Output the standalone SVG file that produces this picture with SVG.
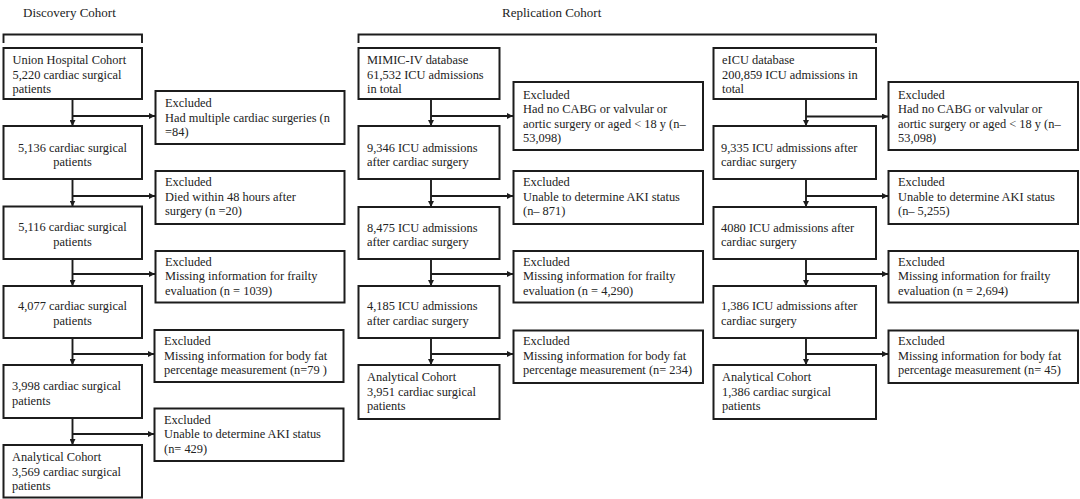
<svg xmlns="http://www.w3.org/2000/svg" width="1080" height="499" viewBox="0 0 1080 499">
<style>
  .bg { fill: #ffffff; }
  .box { fill: #ffffff; stroke: #1c1c1c; stroke-width: 2; }
  .ln { fill: none; stroke: #1c1c1c; stroke-width: 1.9; }
  .t { font-family: "Liberation Serif", "Times New Roman", serif; font-size: 12.4px; fill: #222222; }
  .c { text-anchor: middle; }
  .title { font-family: "Liberation Serif", "Times New Roman", serif; font-size: 13px; fill: #222222; }
</style>
<defs>
  <marker id="ah" viewBox="0 0 10 10" refX="10" refY="5" markerWidth="6" markerHeight="6" markerUnits="userSpaceOnUse" orient="auto">
    <path d="M0,0 L10,5 L0,10 z" fill="#1c1c1c"/>
  </marker>
</defs>
<rect class="bg" x="0" y="0" width="1080" height="499"/>

<g id="titles">
  <text class="title" x="23" y="17">Discovery Cohort</text>
  <text class="title" x="502" y="17">Replication Cohort</text>
  <path class="ln" d="M3.5,43 V34.5 H142 V43"/>
  <path class="ln" d="M358.5,43 V34.5 H876 V43"/>
</g>

<g id="connectors">
  <!-- Discovery -->
  <path class="ln" d="M72.5,99 V126" marker-end="url(#ah)"/>
  <path class="ln" d="M72.5,116 H155" marker-end="url(#ah)"/>
  <path class="ln" d="M72.5,179 V206.5" marker-end="url(#ah)"/>
  <path class="ln" d="M72.5,196 H155" marker-end="url(#ah)"/>
  <path class="ln" d="M72.5,259 V286" marker-end="url(#ah)"/>
  <path class="ln" d="M72.5,274 H155" marker-end="url(#ah)"/>
  <path class="ln" d="M72.5,338 V365" marker-end="url(#ah)"/>
  <path class="ln" d="M72.5,354 H154" marker-end="url(#ah)"/>
  <path class="ln" d="M72.5,418 V445" marker-end="url(#ah)"/>
  <path class="ln" d="M72.5,434 H154" marker-end="url(#ah)"/>
  <!-- MIMIC -->
  <path class="ln" d="M431,99 V126" marker-end="url(#ah)"/>
  <path class="ln" d="M431,116 H513" marker-end="url(#ah)"/>
  <path class="ln" d="M431,179 V207" marker-end="url(#ah)"/>
  <path class="ln" d="M431,196 H513" marker-end="url(#ah)"/>
  <path class="ln" d="M431,259 V286" marker-end="url(#ah)"/>
  <path class="ln" d="M431,274 H513" marker-end="url(#ah)"/>
  <path class="ln" d="M431,338 V365" marker-end="url(#ah)"/>
  <path class="ln" d="M431,354 H513" marker-end="url(#ah)"/>
  <!-- eICU -->
  <path class="ln" d="M806,99 V126" marker-end="url(#ah)"/>
  <path class="ln" d="M806,116.5 H888" marker-end="url(#ah)"/>
  <path class="ln" d="M806,179 V207" marker-end="url(#ah)"/>
  <path class="ln" d="M806,196 H888" marker-end="url(#ah)"/>
  <path class="ln" d="M806,259 V286" marker-end="url(#ah)"/>
  <path class="ln" d="M806,274 H888" marker-end="url(#ah)"/>
  <path class="ln" d="M806,338 V365" marker-end="url(#ah)"/>
  <path class="ln" d="M806,354 H888" marker-end="url(#ah)"/>
</g>

<!-- Discovery cohort nodes -->
<g id="d1">
  <rect class="box" x="3.5" y="48" width="138.5" height="51"/>
  <text class="t" x="12.5" y="64">Union Hospital Cohort</text>
  <text class="t" x="12.5" y="78.5">5,220 cardiac surgical</text>
  <text class="t" x="12.5" y="93">patients</text>
</g>
<g id="d2">
  <rect class="box" x="3.5" y="126" width="138.5" height="53"/>
  <text class="t c" x="72.5" y="151.5">5,136 cardiac surgical</text>
  <text class="t c" x="72.5" y="166">patients</text>
</g>
<g id="d3">
  <rect class="box" x="3.5" y="206.5" width="138.5" height="52.5"/>
  <text class="t c" x="72.5" y="231">5,116 cardiac surgical</text>
  <text class="t c" x="72.5" y="245.5">patients</text>
</g>
<g id="d4">
  <rect class="box" x="3.5" y="286" width="138.5" height="52"/>
  <text class="t c" x="72.5" y="310">4,077 cardiac surgical</text>
  <text class="t c" x="72.5" y="324.5">patients</text>
</g>
<g id="d5">
  <rect class="box" x="3.5" y="365" width="138.5" height="53"/>
  <text class="t" x="12" y="390">3,998 cardiac surgical</text>
  <text class="t" x="12" y="404.5">patients</text>
</g>
<g id="d6">
  <rect class="box" x="3.5" y="445" width="138.5" height="52.5"/>
  <text class="t" x="12" y="461">Analytical Cohort</text>
  <text class="t" x="12" y="475.5">3,569 cardiac surgical</text>
  <text class="t" x="12" y="490">patients</text>
</g>
<g id="dx1">
  <rect class="box" x="155.5" y="91" width="189" height="53"/>
  <text class="t" x="165" y="107">Excluded</text>
  <text class="t" x="165" y="121.5">Had multiple cardiac surgeries (n</text>
  <text class="t" x="165" y="136">=84)</text>
</g>
<g id="dx2">
  <rect class="box" x="155.5" y="171" width="189" height="53"/>
  <text class="t" x="165" y="186">Excluded</text>
  <text class="t" x="165" y="200.5">Died within 48 hours after</text>
  <text class="t" x="165" y="215">surgery (n =20)</text>
</g>
<g id="dx3">
  <rect class="box" x="155.5" y="251" width="189" height="51.5"/>
  <text class="t" x="165" y="265.5">Excluded</text>
  <text class="t" x="165" y="280">Missing information for frailty</text>
  <text class="t" x="165" y="294.5">evaluation (n = 1039)</text>
</g>
<g id="dx4">
  <rect class="box" x="154.5" y="330" width="189" height="52"/>
  <text class="t" x="164" y="345">Excluded</text>
  <text class="t" x="164" y="359.5">Missing information for body fat</text>
  <text class="t" x="164" y="374">percentage measurement (n=79 )</text>
</g>
<g id="dx5">
  <rect class="box" x="154.5" y="408.5" width="189" height="52.5"/>
  <text class="t" x="164" y="423.5">Excluded</text>
  <text class="t" x="164" y="438">Unable to determine AKI status</text>
  <text class="t" x="164" y="452.5">(n= 429)</text>
</g>

<!-- MIMIC-IV nodes -->
<g id="m1">
  <rect class="box" x="358.5" y="48" width="141" height="51"/>
  <text class="t" x="367" y="64">MIMIC-IV database</text>
  <text class="t" x="367" y="78.5">61,532 ICU admissions</text>
  <text class="t" x="367" y="93">in total</text>
</g>
<g id="m2">
  <rect class="box" x="358.5" y="126" width="141" height="53"/>
  <text class="t" x="367" y="151.5">9,346 ICU admissions</text>
  <text class="t" x="367" y="166">after cardiac surgery</text>
</g>
<g id="m3">
  <rect class="box" x="358.5" y="207" width="141" height="52"/>
  <text class="t" x="367" y="231.5">8,475 ICU admissions</text>
  <text class="t" x="367" y="246">after cardiac surgery</text>
</g>
<g id="m4">
  <rect class="box" x="358.5" y="286" width="141" height="52"/>
  <text class="t" x="367" y="310">4,185 ICU admissions</text>
  <text class="t" x="367" y="324.5">after cardiac surgery</text>
</g>
<g id="m5">
  <rect class="box" x="358.5" y="365" width="141" height="54"/>
  <text class="t" x="367" y="381">Analytical Cohort</text>
  <text class="t" x="367" y="395.5">3,951 cardiac surgical</text>
  <text class="t" x="367" y="410">patients</text>
</g>
<g id="mx1">
  <rect class="box" x="513.5" y="82" width="189.5" height="68"/>
  <text class="t" x="523" y="98.5">Excluded</text>
  <text class="t" x="523" y="113">Had no CABG or valvular or</text>
  <text class="t" x="523" y="127.5">aortic surgery or aged &lt; 18 y (n–</text>
  <text class="t" x="523" y="142">53,098)</text>
</g>
<g id="mx2">
  <rect class="box" x="513.5" y="171" width="189.5" height="53"/>
  <text class="t" x="523" y="186">Excluded</text>
  <text class="t" x="523" y="200.5">Unable to determine AKI status</text>
  <text class="t" x="523" y="215">(n– 871)</text>
</g>
<g id="mx3">
  <rect class="box" x="513.5" y="251" width="189.5" height="51.5"/>
  <text class="t" x="523" y="265.5">Excluded</text>
  <text class="t" x="523" y="280">Missing information for frailty</text>
  <text class="t" x="523" y="294.5">evaluation (n = 4,290)</text>
</g>
<g id="mx4">
  <rect class="box" x="513.5" y="330.5" width="189.5" height="52.5"/>
  <text class="t" x="523" y="345">Excluded</text>
  <text class="t" x="523" y="359.5">Missing information for body fat</text>
  <text class="t" x="523" y="374">percentage measurement (n= 234)</text>
</g>

<!-- eICU nodes -->
<g id="e1">
  <rect class="box" x="713.5" y="48" width="162.5" height="51"/>
  <text class="t" x="722" y="64">eICU database</text>
  <text class="t" x="722" y="78.5">200,859 ICU admissions in</text>
  <text class="t" x="722" y="93">total</text>
</g>
<g id="e2">
  <rect class="box" x="713.5" y="126" width="162.5" height="53"/>
  <text class="t" x="721" y="151.5">9,335 ICU admissions after</text>
  <text class="t" x="721" y="166">cardiac surgery</text>
</g>
<g id="e3">
  <rect class="box" x="713.5" y="207" width="162.5" height="52"/>
  <text class="t" x="721" y="231.5">4080 ICU admissions after</text>
  <text class="t" x="721" y="246">cardiac surgery</text>
</g>
<g id="e4">
  <rect class="box" x="713.5" y="286" width="162.5" height="52"/>
  <text class="t" x="721" y="310">1,386 ICU admissions after</text>
  <text class="t" x="721" y="324.5">cardiac surgery</text>
</g>
<g id="e5">
  <rect class="box" x="713.5" y="365" width="162.5" height="54"/>
  <text class="t" x="722" y="381">Analytical Cohort</text>
  <text class="t" x="722" y="395.5">1,386 cardiac surgical</text>
  <text class="t" x="722" y="410">patients</text>
</g>
<g id="ex1">
  <rect class="box" x="888.5" y="82" width="189.5" height="68"/>
  <text class="t" x="898" y="98.5">Excluded</text>
  <text class="t" x="898" y="113">Had no CABG or valvular or</text>
  <text class="t" x="898" y="127.5">aortic surgery or aged &lt; 18 y (n–</text>
  <text class="t" x="898" y="142">53,098)</text>
</g>
<g id="ex2">
  <rect class="box" x="888.5" y="171" width="189.5" height="53"/>
  <text class="t" x="898" y="186">Excluded</text>
  <text class="t" x="898" y="200.5">Unable to determine AKI status</text>
  <text class="t" x="898" y="215">(n– 5,255)</text>
</g>
<g id="ex3">
  <rect class="box" x="888.5" y="251" width="189.5" height="51.5"/>
  <text class="t" x="898" y="265.5">Excluded</text>
  <text class="t" x="898" y="280">Missing information for frailty</text>
  <text class="t" x="898" y="294.5">evaluation (n = 2,694)</text>
</g>
<g id="ex4">
  <rect class="box" x="888.5" y="330.5" width="189.5" height="52.5"/>
  <text class="t" x="898" y="345">Excluded</text>
  <text class="t" x="898" y="359.5">Missing information for body fat</text>
  <text class="t" x="898" y="374">percentage measurement (n= 45)</text>
</g>
</svg>
